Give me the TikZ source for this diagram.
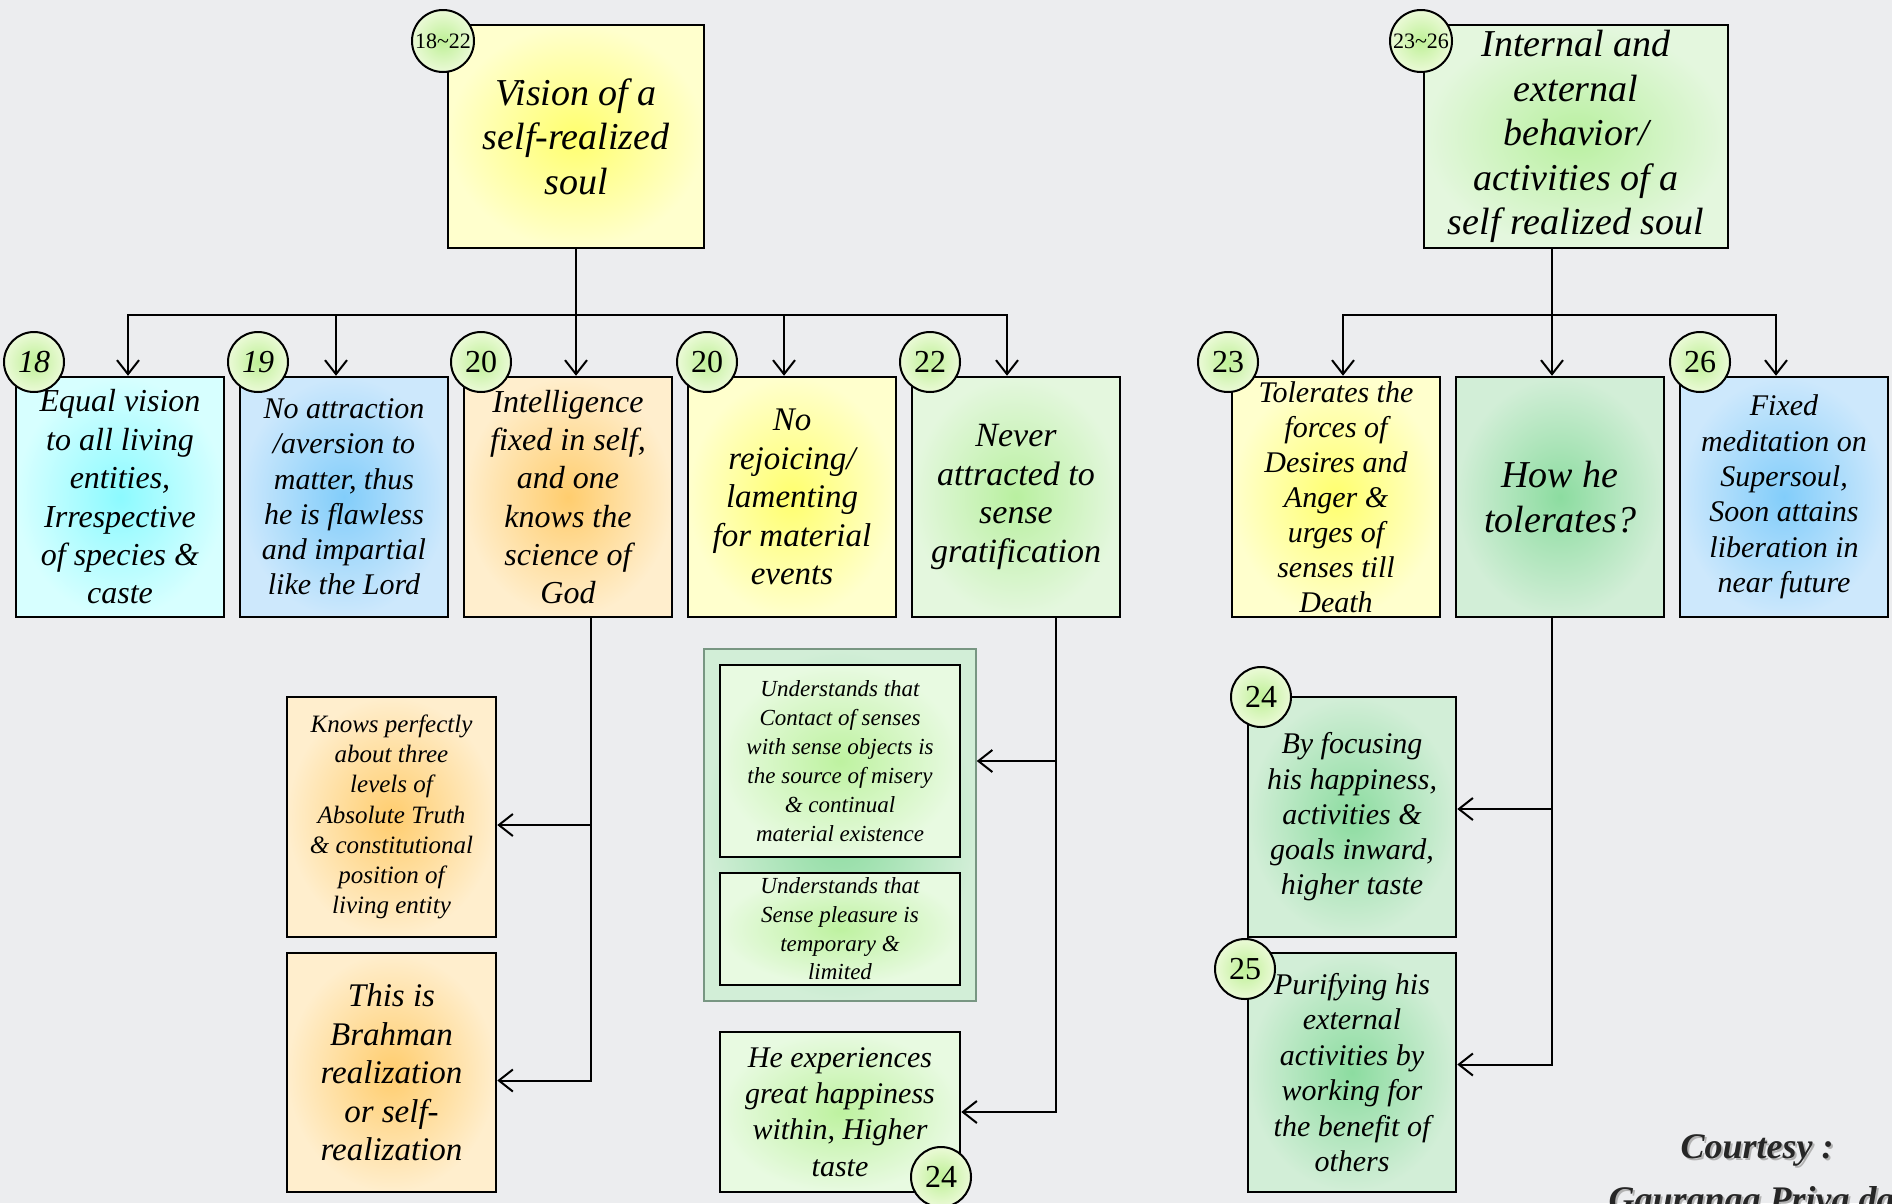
\documentclass[tikz,border=0pt]{standalone}
\usepackage{fontspec}
\setmainfont{Liberation Serif}
\usetikzlibrary{arrows.meta,calc}
\definecolor{bgcol}{RGB}{236,237,239}
\definecolor{yelC}{RGB}{255,255,110}
\definecolor{yelO}{RGB}{255,255,205}
\definecolor{grnC}{RGB}{185,240,160}
\definecolor{grnO}{RGB}{228,247,222}
\definecolor{cyaC}{RGB}{140,250,255}
\definecolor{cyaO}{RGB}{215,255,255}
\definecolor{bluC}{RGB}{130,205,250}
\definecolor{bluO}{RGB}{205,232,252}
\definecolor{orgC}{RGB}{255,205,110}
\definecolor{orgO}{RGB}{255,238,205}
\definecolor{mgrC}{RGB}{140,220,160}
\definecolor{mgrO}{RGB}{210,238,215}
\definecolor{lgrC}{RGB}{190,242,160}
\definecolor{lgrO}{RGB}{232,250,225}
\definecolor{cirC}{RGB}{190,240,150}
\definecolor{cirO}{RGB}{235,250,215}
\definecolor{outerline}{RGB}{120,150,130}
\newcommand\myfs[2]{\fontsize{#1}{#2}\selectfont}
\begin{document}
\begin{tikzpicture}[x=1pt,y=-1pt,
  box/.style={draw, line width=2.5pt, align=center, inner sep=0pt},
  yel/.style={inner color=yelC, outer color=yelO},
  grn/.style={inner color=grnC, outer color=grnO},
  cya/.style={inner color=cyaC, outer color=cyaO},
  blu/.style={inner color=bluC, outer color=bluO},
  org/.style={inner color=orgC, outer color=orgO},
  mgr/.style={inner color=mgrC, outer color=mgrO},
  lgr/.style={inner color=lgrC, outer color=lgrO},
  numc/.style={circle, draw, line width=2pt, inner color=cirC, outer color=cirO, minimum size=60pt, inner sep=0pt},
  conn/.style={line width=2pt},
  arr/.style={line width=2pt, -{Straight Barb[length=14pt,width=22pt,line width=2pt]}},
]
\useasboundingbox (0,0) rectangle (1892,1203);
\fill[bgcol] (0,0) rectangle (1892,1203);

% main boxes
\node[box, yel, minimum width=256pt, minimum height=223pt, font=\myfs{38}{44.6}\itshape] (mainL) at (576,136.5)
  {Vision of a\\self-realized\\soul};
\node[box, grn, minimum width=304pt, minimum height=223pt, font=\myfs{38}{44.6}\itshape] (mainR) at (1576,136.5)
  {Internal and\\external\\behavior/\\activities of a\\self realized soul};

% second row
\node[box, cya, minimum width=208pt, minimum height=240pt, font=\myfs{32}{38.4}\itshape] (b18) at (120,497)
  {Equal vision\\to all living\\entities,\\Irrespective\\of species \&\\caste};
\node[box, blu, minimum width=208pt, minimum height=240pt, font=\myfs{30}{35.2}\itshape] (b19) at (344,497)
  {No attraction\\/aversion to\\matter, thus\\he is flawless\\and impartial\\like the Lord};
\node[box, org, minimum width=208pt, minimum height=240pt, font=\myfs{32}{38.2}\itshape] (b20a) at (568,497)
  {Intelligence\\fixed in self,\\and one\\knows the\\science of\\God};
\node[box, yel, minimum width=208pt, minimum height=240pt, font=\myfs{33}{38.6}\itshape] (b20b) at (792,497)
  {No\\rejoicing/\\lamenting\\for material\\events};
\node[box, grn, minimum width=208pt, minimum height=240pt, font=\myfs{34}{38.6}\itshape] (b22) at (1016,497)
  {Never\\attracted to\\sense\\gratification};
\node[box, yel, minimum width=208pt, minimum height=240pt, font=\myfs{30}{35}\itshape] (b23) at (1336,497)
  {Tolerates the\\forces of\\Desires and\\Anger \&\\urges of\\senses till\\Death};
\node[box, mgr, minimum width=208pt, minimum height=240pt, font=\myfs{38}{44.6}\itshape] (how) at (1560,497)
  {How he\\tolerates?};
\node[box, blu, minimum width=208pt, minimum height=240pt, font=\myfs{30}{35.4}\itshape] (b26) at (1784,497)
  {Fixed\\meditation on\\Supersoul,\\Soon attains\\liberation in\\near future};

% lower left
\node[box, org, minimum width=209pt, minimum height=240pt, font=\myfs{25}{30.2}\itshape] (knows) at (391.5,817)
  {Knows perfectly\\about three\\levels of\\Absolute Truth\\\& constitutional\\position of\\living entity};
\node[box, org, minimum width=209pt, minimum height=239pt, font=\myfs{33}{38.6}\itshape] (brahman) at (391.5,1072.5)
  {This is\\Brahman\\realization\\or self-\\realization};

% lower middle
\node[draw=outerline, line width=1.5pt, mgr, minimum width=272pt, minimum height=352pt, inner sep=0pt] (outer) at (840,825) {};
\node[box, lgr, minimum width=240pt, minimum height=192pt, font=\myfs{23}{29}\itshape] (inner1) at (840,761)
  {Understands that\\Contact of senses\\with sense objects is\\the source of misery\\\& continual\\material existence};
\node[box, lgr, minimum width=240pt, minimum height=112pt, font=\myfs{23}{28.6}\itshape] (inner2) at (840,929)
  {Understands that\\Sense pleasure is\\temporary \&\\limited};
\node[box, lgr, minimum width=240pt, minimum height=160pt, font=\myfs{30}{36.2}\itshape] (heexp) at (840,1112)
  {He experiences\\great happiness\\within, Higher\\taste};

% lower right
\node[box, mgr, minimum width=208pt, minimum height=240pt, font=\myfs{30}{35.3}\itshape] (b24) at (1352,817)
  {By focusing\\his happiness,\\activities \&\\goals inward,\\higher taste};
\node[box, mgr, minimum width=208pt, minimum height=239pt, font=\myfs{30}{35.4}\itshape] (b25) at (1352,1072.5)
  {Purifying his\\external\\activities by\\working for\\the benefit of\\others};

% number circles
\node[numc, minimum size=62pt, font=\myfs{22}{24}] (c1822) at (443,41) {18\textasciitilde22};
\node[numc, minimum size=62pt, font=\myfs{22}{24}] (c2326) at (1421,41) {23\textasciitilde26};
\node[numc, font=\myfs{32}{34}\itshape] (c18) at (34,362) {18};
\node[numc, font=\myfs{32}{34}\itshape] (c19) at (258,362) {19};
\node[numc, font=\myfs{32}{34}] (c20a) at (481,362) {20};
\node[numc, font=\myfs{32}{34}] (c20b) at (707,362) {20};
\node[numc, font=\myfs{32}{34}] (c22) at (930,362) {22};
\node[numc, font=\myfs{32}{34}] (c23) at (1228,362) {23};
\node[numc, font=\myfs{32}{34}] (c26) at (1700,362) {26};
\node[numc, font=\myfs{32}{34}] (c24b) at (941,1177) {24};
\node[numc, font=\myfs{32}{34}] (c24) at (1261,697) {24};
\node[numc, font=\myfs{32}{34}] (c25) at (1245,969) {25};

% top-left tree
\draw[conn] (mainL.south) -- ++(0,66) coordinate (jL);
\draw[arr] (jL) -| ([xshift=8pt]b18.north);
\draw[arr] (jL) -| ([xshift=-8pt]b19.north);
\draw[arr] (jL) -- ([xshift=8pt]b20a.north);
\draw[arr] (jL) -| ([xshift=-8pt]b20b.north);
\draw[arr] (jL) -| ([xshift=-9pt]b22.north);

% top-right tree
\draw[conn] ([xshift=-24pt]mainR.south) -- ++(0,66) coordinate (jR);
\draw[arr] (jR) -| ([xshift=7pt]b23.north);
\draw[arr] (jR) -- ([xshift=-8pt]how.north);
\draw[arr] (jR) -| ([xshift=-8pt]b26.north);

% lower branches
\draw[arr] ([xshift=23pt]b20a.south) |- ([yshift=-8pt]knows.east);
\draw[arr] ([xshift=23pt]b20a.south) |- ([yshift=-8pt]brahman.east);
\draw[arr] ([xshift=40pt]b22.south) |- (outer.east |- inner1.east);
\draw[arr] ([xshift=40pt]b22.south) |- (heexp.east);
\draw[arr] ([xshift=-8pt]how.south) |- ([yshift=8pt]b24.east);
\draw[arr] ([xshift=-8pt]how.south) |- ([yshift=8pt]b25.east);

% courtesy
\node[text=black!30, font=\myfs{36}{40}\bfseries\itshape] (courtsh) at (1759,1152) {Courtesy :};
\node[text=black!85, font=\myfs{36}{40}\bfseries\itshape] (court) at (1757,1150) {Courtesy :};
\node[text=black!30, anchor=base west, font=\myfs{36}{40}\bfseries\itshape] (gpdsh) at (1607,1213) {Gauranga Priya das};
\node[text=black!85, anchor=base west, font=\myfs{36}{40}\bfseries\itshape] (gpd) at (1605,1211) {Gauranga Priya das};
\end{tikzpicture}
\end{document}
